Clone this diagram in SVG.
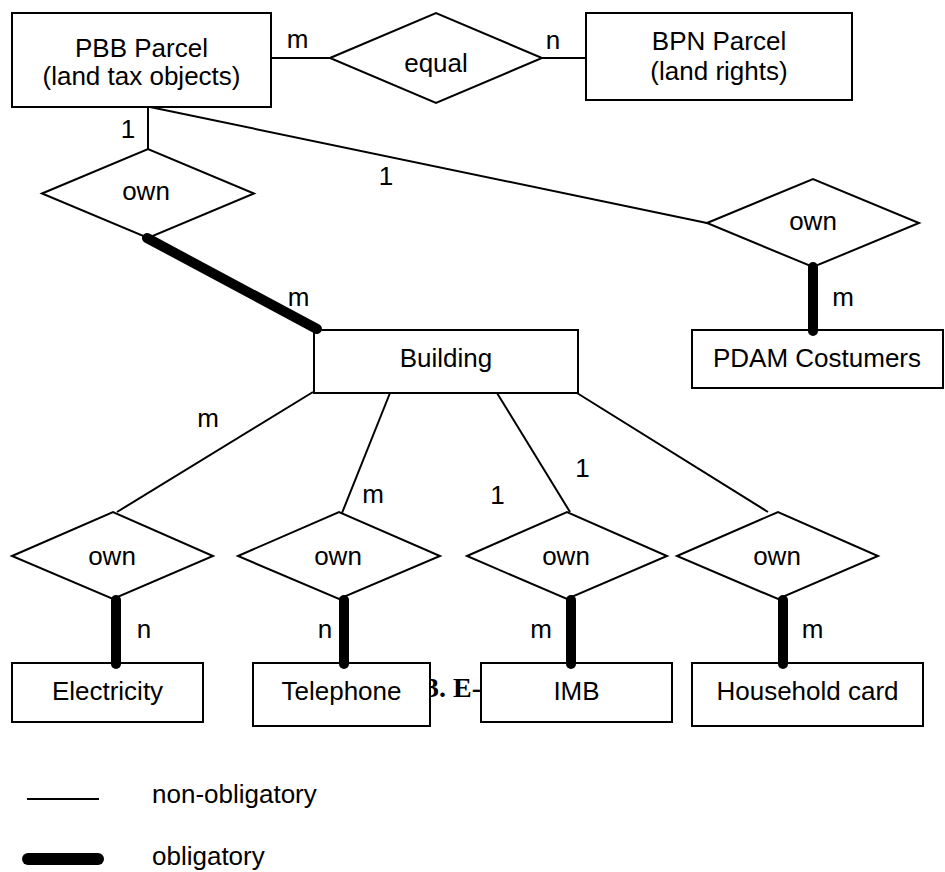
<svg xmlns="http://www.w3.org/2000/svg" width="945" height="872" viewBox="0 0 945 872">
<style>
.box{fill:#fff;stroke:#000;stroke-width:2}
.dia{fill:#fff;stroke:#000;stroke-width:2}
.thin{stroke:#000;stroke-width:2;fill:none}
.thick{stroke:#000;stroke-width:10;stroke-linecap:round;fill:none}
text{font-family:"Liberation Sans",Arial,sans-serif;font-size:26px;fill:#000}
.c{text-anchor:middle}
.cap{font-family:"Liberation Serif","Times New Roman",serif;font-weight:bold;font-size:28px}
</style>
<rect width="945" height="872" fill="#fff"/>
<text class="cap" x="425" y="697">3. E-</text>
<g id="thin-connectors">
<line class="thin" x1="271" y1="58" x2="330" y2="58"/>
<line class="thin" x1="542" y1="58" x2="586" y2="58"/>
<line class="thin" x1="148" y1="107" x2="148" y2="149"/>
<line class="thin" x1="150" y1="107" x2="707" y2="223"/>
<line class="thin" x1="313" y1="392" x2="117" y2="512"/>
<line class="thin" x1="390" y1="393" x2="342" y2="513"/>
<line class="thin" x1="497" y1="393" x2="570" y2="512"/>
<line class="thin" x1="577" y1="393" x2="768" y2="512"/>
</g>
<g id="pbb">
<rect class="box" x="12" y="13" width="259" height="94"/>
<text class="c" x="141.5" y="57">PBB Parcel</text>
<text class="c" x="141.5" y="85">(land tax objects)</text>
</g>
<g id="equal">
<polygon class="dia" points="330,58 436,13 542,58 436,103"/>
<text class="c" x="436" y="72">equal</text>
</g>
<g id="bpn">
<rect class="box" x="586" y="13" width="266" height="87"/>
<text class="c" x="719" y="50">BPN Parcel</text>
<text class="c" x="719" y="80">(land rights)</text>
</g>
<g id="own-building">
<polygon class="dia" points="42,193.5 148,149 254,193.5 148,238"/>
<text class="c" x="146" y="200">own</text>
</g>
<g id="own-pdam">
<polygon class="dia" points="707,223 813,179 919,223 813,267"/>
<text class="c" x="813" y="230">own</text>
</g>
<g id="building">
<rect class="box" x="314" y="330" width="264" height="63"/>
<text class="c" x="446" y="367">Building</text>
</g>
<g id="pdam">
<rect class="box" x="692" y="330" width="251" height="58"/>
<text class="c" x="817" y="367">PDAM Costumers</text>
</g>
<g id="own-electricity">
<polygon class="dia" points="12,556 113,512 213,556 113,599"/>
<text class="c" x="112" y="565">own</text>
</g>
<g id="own-telephone">
<polygon class="dia" points="238,556 339,512 440,556 339,599"/>
<text class="c" x="338" y="565">own</text>
</g>
<g id="own-imb">
<polygon class="dia" points="467,556 567,512 667,556 567,599"/>
<text class="c" x="566" y="565">own</text>
</g>
<g id="own-household">
<polygon class="dia" points="677,556 778,512 878,556 778,599"/>
<text class="c" x="777" y="565">own</text>
</g>
<g id="electricity">
<rect class="box" x="12" y="663" width="191" height="59"/>
<text class="c" x="107.5" y="700">Electricity</text>
</g>
<g id="telephone">
<rect class="box" x="253" y="663" width="177" height="63"/>
<text class="c" x="341.5" y="700">Telephone</text>
</g>
<g id="imb">
<rect class="box" x="481" y="663" width="191" height="59"/>
<text class="c" x="576.5" y="700">IMB</text>
</g>
<g id="household">
<rect class="box" x="692" y="663" width="231" height="63"/>
<text class="c" x="807.5" y="700">Household card</text>
</g>
<g id="thick-connectors">
<line class="thick" x1="147" y1="238" x2="317" y2="329"/>
<line class="thick" x1="813" y1="267" x2="813" y2="331"/>
<line class="thick" x1="116" y1="600" x2="116" y2="664"/>
<line class="thick" x1="344" y1="600" x2="344" y2="664"/>
<line class="thick" x1="571" y1="600" x2="571" y2="664"/>
<line class="thick" x1="783" y1="600" x2="783" y2="664"/>
</g>
<g id="cardinalities">
<text class="c" x="297.5" y="48">m</text>
<text class="c" x="553" y="49">n</text>
<text class="c" x="128" y="138">1</text>
<text class="c" x="386" y="185">1</text>
<text class="c" x="298.5" y="306">m</text>
<text class="c" x="843" y="306">m</text>
<text class="c" x="208" y="427">m</text>
<text class="c" x="373" y="503">m</text>
<text class="c" x="497.5" y="504">1</text>
<text class="c" x="582.5" y="477">1</text>
<text class="c" x="144" y="638">n</text>
<text class="c" x="325" y="638">n</text>
<text class="c" x="541" y="638">m</text>
<text class="c" x="812.5" y="638">m</text>
</g>
<g id="legend">
<line class="thin" x1="27" y1="799" x2="99" y2="799"/>
<line x1="28" y1="859" x2="98" y2="859" stroke="#000" stroke-width="12" stroke-linecap="round"/>
<text x="152" y="803">non-obligatory</text>
<text x="152" y="865">obligatory</text>
</g>
</svg>
